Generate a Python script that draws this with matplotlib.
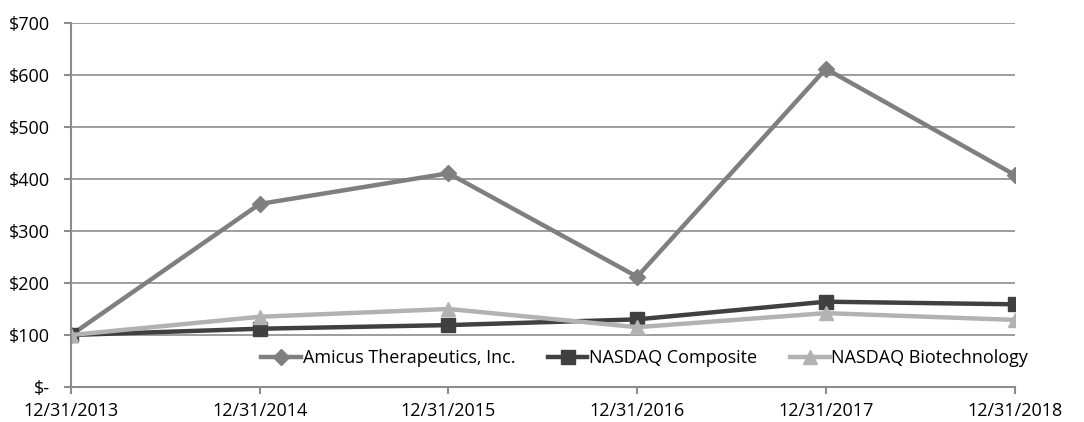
import matplotlib.pyplot as plt
import numpy as np

dates = ["12/31/2013", "12/31/2014", "12/31/2015", "12/31/2016", "12/31/2017", "12/31/2018"]
amicus = [100, 352, 411, 212, 612, 408]
nasdaq_comp = [100, 112, 119, 130, 164, 159]
nasdaq_bio = [100, 135, 150, 115, 142, 129]
y_ticks = [0, 100, 200, 300, 400, 500, 600, 700]

plt.rcParams['font.family'] = ['Open Sans', 'DejaVu Sans']

fig = plt.figure(figsize=(10.84, 4.22), dpi=100)
ax = fig.add_axes([0.0655, 0.083, 0.8705, 0.8625])

x = np.arange(len(dates))
ax.plot(x, amicus, color='#7f7f7f', lw=3.2, marker='D', ms=8, label='Amicus Therapeutics, Inc.')
ax.plot(x, nasdaq_comp, color='#404040', lw=3.2, marker='s', ms=10, label='NASDAQ Composite')
ax.plot(x, nasdaq_bio, color='#b2b2b2', lw=3.2, marker='^', ms=10, label='NASDAQ Biotechnology')

ax.set_xlim(0, len(dates) - 1)
ax.set_ylim(0, 700)
ax.set_xticks(x)
ax.set_xticklabels(dates)
ax.set_yticks(y_ticks)
ax.set_yticklabels(["$-" if v == 0 else "${}".format(v) for v in y_ticks])
ax.grid(axis='y', color='#8c8c8c', lw=1.2)
ax.set_axisbelow(True)

for s in ['top', 'right']:
    ax.spines[s].set_visible(False)
for s in ['left', 'bottom']:
    ax.spines[s].set_color('#8c8c8c')
    ax.spines[s].set_linewidth(1.5)
ax.tick_params(axis='both', colors='#8c8c8c', labelcolor='black', labelsize=13, length=5, width=1.5)
ax.tick_params(axis='x', pad=6)
ax.tick_params(axis='y', pad=10)

ax.legend(loc='center', bbox_to_anchor=(0.608, 0.08), ncol=3, frameon=False, fontsize=13,
          handlelength=2.2, handletextpad=0.1, columnspacing=1.8, borderaxespad=0)

fig.savefig("out.png", dpi=100)
